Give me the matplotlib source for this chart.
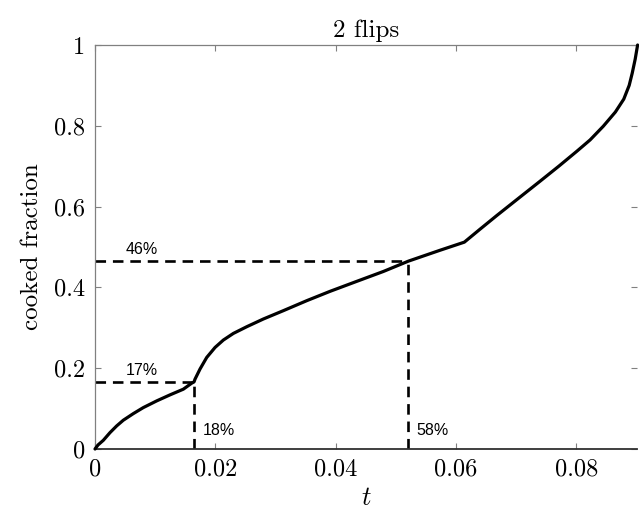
import matplotlib
matplotlib.use("Agg")
import matplotlib.pyplot as plt
import numpy as np

plt.rcParams['font.family'] = ['cmr10', 'DejaVu Serif']
plt.rcParams['mathtext.fontset'] = 'cm'
plt.rcParams['axes.formatter.use_mathtext'] = True

# curve data (t, cooked fraction)
t_vals = [0.0, 0.0005, 0.00138, 0.00249, 0.00360, 0.00470, 0.00637, 0.00803,
          0.01026, 0.01247, 0.01469, 0.01608, 0.01646,
          0.01663, 0.01746, 0.01857, 0.01996, 0.02134, 0.0230, 0.02523,
          0.02799, 0.03131, 0.03521, 0.03908, 0.04352, 0.04795, 0.0521,
          0.05405, 0.05737, 0.0614,
          0.0640, 0.0668, 0.0701, 0.0740, 0.0771, 0.0801, 0.0823, 0.0845,
          0.0865, 0.0879, 0.0888, 0.0893, 0.0898, 0.0902]
f_vals = [0.0, 0.0100, 0.0215, 0.0405, 0.0571, 0.0712, 0.0876, 0.1025,
          0.1191, 0.1340, 0.1481, 0.1630, 0.166,
          0.173, 0.198, 0.2266, 0.2514, 0.2697, 0.2861, 0.3027,
          0.3218, 0.3424, 0.3672, 0.3903, 0.4150, 0.4395, 0.4650,
          0.4750, 0.4920, 0.512,
          0.544, 0.578, 0.617, 0.663, 0.700, 0.737, 0.765, 0.799,
          0.834, 0.866, 0.900, 0.930, 0.965, 1.0]

flip_t = [0.01646, 0.05208]
flip_f = [0.166, 0.465]
flip_t_labels = ['18%', '58%']
flip_f_labels = ['17%', '46%']

x_ticks = [0, 0.02, 0.04, 0.06, 0.08]
x_tick_labels = ['0', '0.02', '0.04', '0.06', '0.08']
y_ticks = [0, 0.2, 0.4, 0.6, 0.8, 1]
y_tick_labels = ['0', '0.2', '0.4', '0.6', '0.8', '1']
x_max = 0.0901

fig = plt.figure(figsize=(6.39, 5.18), dpi=100)
ax = fig.add_axes([95/639, 1-449/518, (637-95)/639, (449-45)/518])

ax.plot(t_vals, f_vals, color='black', lw=2.3, solid_joinstyle='round',
        solid_capstyle='round', clip_on=False, zorder=3)
dash = (0, (4.0, 2.6))
for tx, fy in zip(flip_t, flip_f):
    ax.plot([0, tx], [fy, fy], color='black', lw=1.9, linestyle=dash, zorder=2)
    ax.plot([tx, tx], [0, fy], color='black', lw=1.9, linestyle=dash, zorder=2)

for tx, fy, tl, fl in zip(flip_t, flip_f, flip_t_labels, flip_f_labels):
    ax.annotate(fl, xy=(0, fy), xytext=(22, 3), textcoords='offset points',
                fontsize=11.5, family='Liberation Sans', va='bottom', ha='left')
    ax.annotate(tl, xy=(tx, 0), xytext=(6, 13.5), textcoords='offset points',
                fontsize=11.5, family='Liberation Sans', va='center', ha='left')

ax.set_xlim(0, x_max)
ax.set_ylim(0, 1)
ax.set_xticks(x_ticks)
ax.set_xticklabels(x_tick_labels)
ax.set_yticks(y_ticks)
ax.set_yticklabels(y_tick_labels)
ax.tick_params(direction='in', length=4, width=0.8, color='#808080',
               top=True, right=True, labelsize=17.5, pad=7)
for s in ['left', 'top']:
    ax.spines[s].set_color('#808080')
    ax.spines[s].set_linewidth(0.9)
ax.spines['right'].set_visible(False)
ax.spines['bottom'].set_color('#303030')
ax.spines['bottom'].set_linewidth(1.3)

ax.set_xlabel('$t$', fontsize=19, labelpad=4)
ax.set_ylabel('cooked fraction', fontsize=18, labelpad=8)
ax.set_title('2 flips', fontsize=18, pad=6)

fig.savefig('out.png', dpi=100)
